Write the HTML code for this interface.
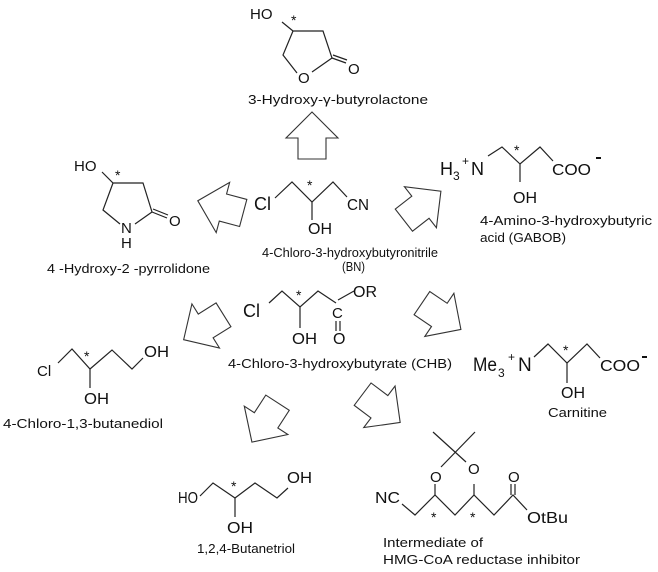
<!DOCTYPE html>
<html><head><meta charset="utf-8"><style>
html,body{margin:0;padding:0;background:#fff;}
svg{display:block;}
text{font-family:"Liberation Sans",Arial,sans-serif;fill:#111;}
.b{stroke:#222;stroke-width:1.2;fill:none;}
.a{stroke:#333;stroke-width:1.1;fill:#fff;}
</style></head><body>
<svg width="658" height="572" viewBox="0 0 658 572" xmlns="http://www.w3.org/2000/svg">
<defs><polygon id="arr" points="0,-24 26,2 14,2 14,23 -14,23 -14,2 -26,2"/></defs>
<g class="a">
<use href="#arr" transform="translate(312,136)"/>
<use href="#arr" transform="translate(221,207) rotate(-75)"/>
<use href="#arr" transform="translate(422,206) rotate(52)"/>
<use href="#arr" transform="translate(204,327) rotate(-122)"/>
<use href="#arr" transform="translate(441,316) rotate(124)"/>
<use href="#arr" transform="translate(265,422) rotate(-147)"/>
<use href="#arr" transform="translate(381,408) rotate(127)"/>
</g>

<!-- Lactone -->
<text x="250" y="19" font-size="15">HO</text>
<text x="291" y="25" font-size="14">*</text>
<polyline class="b" points="282,22 293,31 323,31 332,58 312,72"/>
<polyline class="b" points="297,73 283,55 293,31"/>
<line class="b" x1="332" y1="58" x2="346" y2="63"/>
<line class="b" x1="333" y1="55" x2="347" y2="60"/>
<text x="298" y="83" font-size="15">O</text>
<text x="348" y="74" font-size="15">O</text>
<text x="248" y="104" font-size="13" textLength="180" lengthAdjust="spacingAndGlyphs">3-Hydroxy-γ-butyrolactone</text>

<!-- Pyrrolidone -->
<text x="74" y="171" font-size="15">HO</text>
<text x="115" y="180" font-size="14">*</text>
<polyline class="b" points="102,172 113,183 143,183 152,212 135,224"/>
<polyline class="b" points="120,224 103,210 113,183"/>
<line class="b" x1="152" y1="212" x2="167" y2="218"/>
<line class="b" x1="153" y1="209" x2="168" y2="215"/>
<text x="121" y="233" font-size="15">N</text>
<text x="121" y="248" font-size="15">H</text>
<text x="169" y="226" font-size="15">O</text>
<text x="47" y="273" font-size="13" textLength="163" lengthAdjust="spacingAndGlyphs">4 -Hydroxy-2 -pyrrolidone</text>

<!-- BN -->
<text x="254" y="210" font-size="18">Cl</text>
<polyline class="b" points="275,198 292,182 312,202 333,182 347,197"/>
<line class="b" x1="312" y1="202" x2="312" y2="220"/>
<text x="307" y="190" font-size="14">*</text>
<text x="347" y="210" font-size="16" textLength="22" lengthAdjust="spacingAndGlyphs">CN</text>
<text x="308" y="234" font-size="16" textLength="24" lengthAdjust="spacingAndGlyphs">OH</text>
<text x="262" y="257" font-size="13" textLength="176" lengthAdjust="spacingAndGlyphs">4-Chloro-3-hydroxybutyronitrile</text>
<text x="342" y="271" font-size="13" textLength="23" lengthAdjust="spacingAndGlyphs">(BN)</text>

<!-- GABOB -->
<text x="440" y="175" font-size="18">H</text>
<text x="453" y="180" font-size="12">3</text>
<text x="462" y="165" font-size="12">+</text>
<text x="471" y="175" font-size="18">N</text>
<polyline class="b" points="488,156 502,147 520,164 540,147 553,161"/>
<line class="b" x1="520" y1="164" x2="520" y2="182"/>
<text x="514" y="155" font-size="14">*</text>
<text x="552" y="175" font-size="16" textLength="39" lengthAdjust="spacingAndGlyphs">COO</text>
<rect x="596" y="157" width="5" height="2" fill="#111"/>
<text x="513" y="203" font-size="16" textLength="24" lengthAdjust="spacingAndGlyphs">OH</text>
<text x="480" y="225" font-size="13" textLength="172" lengthAdjust="spacingAndGlyphs">4-Amino-3-hydroxybutyric</text>
<text x="480" y="242" font-size="13" textLength="86" lengthAdjust="spacingAndGlyphs">acid (GABOB)</text>

<!-- CHB -->
<text x="243" y="317" font-size="18">Cl</text>
<polyline class="b" points="269,303 282,291 300,307 318,291 336,303"/>
<line class="b" x1="300" y1="307" x2="300" y2="328"/>
<line class="b" x1="338" y1="300" x2="354" y2="291"/>
<text x="296" y="300" font-size="14">*</text>
<text x="332" y="318" font-size="15">C</text>
<line class="b" x1="336" y1="321" x2="336" y2="331"/>
<line class="b" x1="340" y1="321" x2="340" y2="331"/>
<text x="353" y="297" font-size="16" textLength="24" lengthAdjust="spacingAndGlyphs">OR</text>
<text x="292" y="344" font-size="16" textLength="25" lengthAdjust="spacingAndGlyphs">OH</text>
<text x="333" y="344" font-size="16">O</text>
<text x="228" y="368" font-size="13" textLength="224" lengthAdjust="spacingAndGlyphs">4-Chloro-3-hydroxybutyrate (CHB)</text>

<!-- Chlorobutanediol -->
<text x="37" y="376" font-size="15">Cl</text>
<polyline class="b" points="58,363 72,349 90,369 112,350 132,369 143,358"/>
<line class="b" x1="90" y1="369" x2="90" y2="388"/>
<text x="84" y="361" font-size="14">*</text>
<text x="144" y="357" font-size="16" textLength="25" lengthAdjust="spacingAndGlyphs">OH</text>
<text x="84" y="404" font-size="16" textLength="25" lengthAdjust="spacingAndGlyphs">OH</text>
<text x="3" y="428" font-size="13" textLength="160" lengthAdjust="spacingAndGlyphs">4-Chloro-1,3-butanediol</text>

<!-- Carnitine -->
<text x="473" y="371" font-size="19" textLength="24" lengthAdjust="spacingAndGlyphs">Me</text>
<text x="498" y="377" font-size="12">3</text>
<text x="508" y="361" font-size="12">+</text>
<text x="518" y="371" font-size="19">N</text>
<polyline class="b" points="534,357 548,344 567,363 587,344 600,358"/>
<line class="b" x1="567" y1="363" x2="567" y2="383"/>
<text x="563" y="355" font-size="14">*</text>
<text x="600" y="371" font-size="16" textLength="40" lengthAdjust="spacingAndGlyphs">COO</text>
<rect x="642" y="356" width="5" height="2" fill="#111"/>
<text x="561" y="398" font-size="16" textLength="24" lengthAdjust="spacingAndGlyphs">OH</text>
<text x="548" y="417" font-size="13" textLength="59" lengthAdjust="spacingAndGlyphs">Carnitine</text>

<!-- Butanetriol -->
<text x="178" y="503" font-size="16" textLength="20" lengthAdjust="spacingAndGlyphs">HO</text>
<polyline class="b" points="200,496 213,483 235,498 255,483 277,498 288,488"/>
<line class="b" x1="235" y1="498" x2="235" y2="517"/>
<text x="231" y="491" font-size="14">*</text>
<text x="287" y="483" font-size="16" textLength="25" lengthAdjust="spacingAndGlyphs">OH</text>
<text x="227" y="533" font-size="16" textLength="26" lengthAdjust="spacingAndGlyphs">OH</text>
<text x="197" y="553" font-size="13" textLength="98" lengthAdjust="spacingAndGlyphs">1,2,4-Butanetriol</text>

<!-- HMG intermediate -->
<text x="375" y="503" font-size="16" textLength="25" lengthAdjust="spacingAndGlyphs">NC</text>
<polyline class="b" points="402,504 415,515 435,495 455,515 474,495 494,515 513,495 527,510"/>
<line class="b" x1="435" y1="495" x2="435" y2="484"/>
<line class="b" x1="474" y1="495" x2="474" y2="484"/>
<line class="b" x1="511" y1="495" x2="511" y2="484"/>
<line class="b" x1="515" y1="495" x2="515" y2="484"/>
<text x="430" y="482" font-size="15">O</text>
<text x="468" y="474" font-size="15">O</text>
<text x="508" y="482" font-size="15">O</text>
<line class="b" x1="433" y1="432" x2="466" y2="462"/>
<line class="b" x1="475" y1="432" x2="441" y2="467"/>
<text x="431" y="522" font-size="14">*</text>
<text x="470" y="522" font-size="14">*</text>
<text x="527" y="523" font-size="16" textLength="41" lengthAdjust="spacingAndGlyphs">OtBu</text>
<text x="383" y="547" font-size="13" textLength="100" lengthAdjust="spacingAndGlyphs">Intermediate of</text>
<text x="383" y="564" font-size="13" textLength="197" lengthAdjust="spacingAndGlyphs">HMG-CoA reductase inhibitor</text>
</svg>
</body></html>
